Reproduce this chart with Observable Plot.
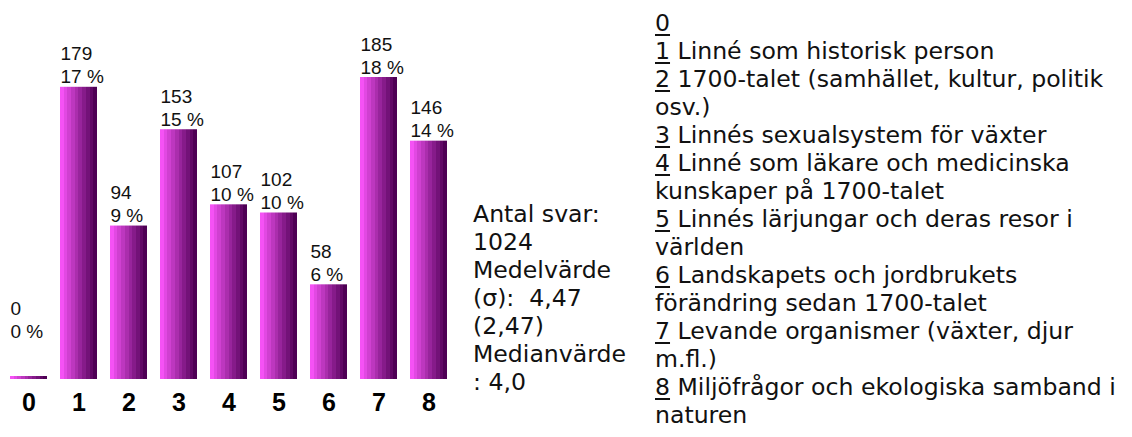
<!DOCTYPE html>
<html><head><meta charset="utf-8">
<script src="https://cdn.jsdelivr.net/npm/d3@7"></script>
<script src="https://cdn.jsdelivr.net/npm/@observablehq/plot@0.6"></script>
<style>
body{margin:0;background:#fff;}
#wrap{position:relative;width:1132px;height:437px;overflow:hidden;background:#fff;}
#chart{position:absolute;left:0;top:0;}
.txt{position:absolute;font-family:"DejaVu Sans",Verdana,sans-serif;font-size:23.6px;color:#111;}
.txt div{height:28px;line-height:28px;white-space:pre;}
#stats{left:473px;top:200px;}
#legend{left:655px;top:9px;}
u{text-decoration-thickness:1.5px;text-underline-offset:3px;}
</style></head><body>
<div id="wrap"><div id="chart"></div><div id="stats" class="txt"></div><div id="legend" class="txt"></div></div>
<script>
const categories = ["0","1","2","3","4","5","6","7","8"];
const counts = [0,179,94,153,107,102,58,185,146];
const percents = [0,17,9,15,10,10,6,18,14];
const statsLines = ["Antal svar:","1024","Medelvärde","(σ):\u00a0 4,47","(2,47)","Medianvärde",": 4,0"];
const legendLabels = [
  "",
  "Linné som historisk person",
  "1700-talet (samhället, kultur, politik\nosv.)",
  "Linnés sexualsystem för växter",
  "Linné som läkare och medicinska\nkunskaper på 1700-talet",
  "Linnés lärjungar och deras resor i\nvärlden",
  "Landskapets och jordbrukets\nförändring sedan 1700-talet",
  "Levande organismer (växter, djur\nm.fl.)",
  "Miljöfrågor och ekologiska samband i\nnaturen"
];

const data = categories.map((c,i)=>({cat:c,count:counts[i],pct:percents[i]}));

const gradMark = () => {
  const ns = "http://www.w3.org/2000/svg";
  const defs = document.createElementNS(ns,"defs");
  const lg = document.createElementNS(ns,"linearGradient");
  lg.setAttribute("id","barGrad");
  lg.setAttribute("x1","0");lg.setAttribute("y1","0");lg.setAttribute("x2","1");lg.setAttribute("y2","0");
  const n = 10;
  const interp = d3.interpolateRgb("rgb(245,82,245)","rgb(78,0,84)");
  for(let i=0;i<n;i++){
    const col = interp(i/(n-1));
    for(const off of [i/n,(i+1)/n]){
      const s = document.createElementNS(ns,"stop");
      s.setAttribute("offset",off);
      s.setAttribute("stop-color",col);
      lg.appendChild(s);
    }
  }
  defs.appendChild(lg);
  return defs;
};

const chart = Plot.plot({
  width:470,height:437,
  marginTop:77,marginBottom:58,marginLeft:0,marginRight:0,
  x:{type:"band",domain:categories,range:[10,447],paddingInner:0.26,paddingOuter:0},
  y:{domain:[0,185],axis:null},
  style:{fontFamily:'"Liberation Sans", Arial, sans-serif',background:"white",overflow:"visible",color:"#000"},
  marks:[
    gradMark,
    Plot.barY(data.filter(d=>d.count>0),{x:"cat",y:"count",fill:"url(#barGrad)"}),
    Plot.barY(data.filter(d=>d.count===0),{x:"cat",y:"count",fill:"url(#barGrad)",insetTop:-3}),
    Plot.text(data.filter(d=>d.count>0),{x:"cat",y:"count",text:d=>`${d.count}\n${d.pct} %`,textAnchor:"start",lineAnchor:"bottom",dx:-18.5,dy:-4,fontSize:19,lineHeight:1.21,fill:"#111"}),
    Plot.text(data.filter(d=>d.count===0),{x:"cat",y:"count",text:d=>`${d.count}\n${d.pct} %`,textAnchor:"start",lineAnchor:"bottom",dx:-18.5,dy:-42,fontSize:19,lineHeight:1.21,fill:"#111"}),
    Plot.axisX({tickSize:0,tickPadding:14,fontSize:25,fontWeight:"bold",label:null})
  ]
});
document.getElementById("chart").appendChild(chart);

const st = document.getElementById("stats");
statsLines.forEach(t=>{const d=document.createElement("div");d.textContent=t;st.appendChild(d);});
const leg = document.getElementById("legend");
legendLabels.forEach((lab,i)=>{
  const parts = lab.split("\n");
  parts.forEach((p,j)=>{
    const d = document.createElement("div");
    if(j===0){
      const u = document.createElement("u");
      u.textContent = categories[i];
      d.appendChild(u);
      if(p) d.appendChild(document.createTextNode(" "+p));
    } else {
      d.textContent = p;
    }
    leg.appendChild(d);
  });
});
</script>
</body></html>
